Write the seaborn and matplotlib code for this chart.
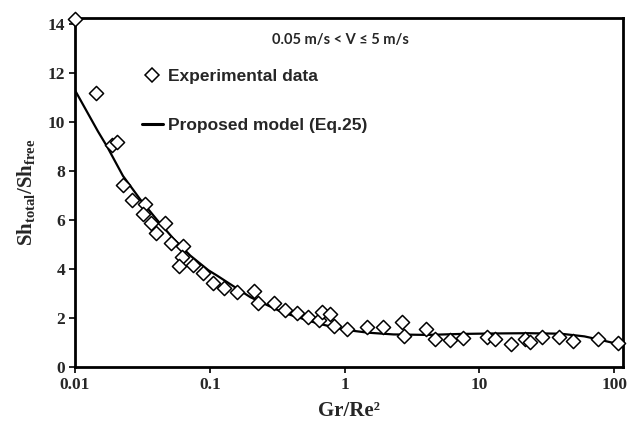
import numpy as np
import pandas as pd
import matplotlib
matplotlib.use("Agg")
import matplotlib.pyplot as plt
import seaborn as sns
from matplotlib.lines import Line2D

# ---- data ----
exp_x = [0.01, 0.0143, 0.0188, 0.0205, 0.0228, 0.0265, 0.0331, 0.0320, 0.0367, 0.0400,
         0.0467, 0.0517, 0.0635, 0.0625, 0.0593, 0.0754, 0.0895, 0.106, 0.128, 0.160,
         0.211, 0.229, 0.297, 0.364, 0.440, 0.531, 0.641, 0.675, 0.773, 0.828,
         1.035, 1.46, 1.92, 2.65, 2.75, 4.0, 4.67, 6.04, 7.54, 11.4,
         13.0, 17.1, 21.8, 23.7, 29.2, 39.0, 49.6, 76.0, 107.0]
exp_y = [14.2, 11.2, 9.06, 9.18, 7.43, 6.8, 6.65, 6.24, 5.88, 5.47,
         5.88, 5.06, 4.94, 4.49, 4.12, 4.16, 3.84, 3.43, 3.22, 3.06,
         3.10, 2.61, 2.61, 2.33, 2.20, 2.04, 1.92, 2.24, 2.16, 1.67,
         1.55, 1.63, 1.63, 1.84, 1.27, 1.55, 1.14, 1.10, 1.18, 1.22,
         1.14, 0.94, 1.14, 1.02, 1.22, 1.22, 1.06, 1.14, 0.98]

model_x = [0.01, 0.0148, 0.0173, 0.0227, 0.0304, 0.0407, 0.0535, 0.0716, 0.0976, 0.114,
           0.2, 0.35, 0.63, 1.0, 1.5, 2.3, 4.1, 7.3, 13.0, 23.0, 40.0, 60.0, 80.0, 110.0]
model_y = [11.3, 9.62, 9.0, 7.8, 6.85, 6.0, 5.25, 4.55, 3.95, 3.72,
           2.85, 2.22, 1.78, 1.52, 1.40, 1.33, 1.31, 1.35, 1.37, 1.38, 1.36, 1.25, 1.1, 0.92]

x_ticks = [0.01, 0.1, 1, 10, 100]
x_tick_labels = ["0.01", "0.1", "1", "10", "100"]
y_ticks = [0, 2, 4, 6, 8, 10, 12, 14]

exp_df = pd.DataFrame({"x": exp_x, "y": exp_y})
model_df = pd.DataFrame({"x": model_x, "y": model_y})

sns.set_style("white")
plt.rcParams["mathtext.fontset"] = "custom"
plt.rcParams["mathtext.rm"] = "Liberation Serif:bold"
plt.rcParams["mathtext.bf"] = "Liberation Serif:bold"
plt.rcParams["mathtext.it"] = "Liberation Serif:bold"

fig = plt.figure(figsize=(6.3, 4.22), dpi=100)
ax = fig.add_axes([75 / 630, 1 - 367 / 422, (623 - 75) / 630, (367 - 18) / 422])

sns.lineplot(data=model_df, x="x", y="y", ax=ax, color="black", linewidth=1.6,
             sort=False, zorder=2, legend=False)
sns.scatterplot(data=exp_df, x="x", y="y", ax=ax, marker="D", s=52,
                facecolor="white", edgecolor="black", linewidth=1.1,
                zorder=3, clip_on=False, legend=False)

ax.set_xscale("log")
ax.set_xlim(0.01, 116)
ax.set_ylim(0, 14.25)
ax.set_xticks(x_ticks)
ax.set_xticklabels(x_tick_labels)
ax.xaxis.set_minor_locator(matplotlib.ticker.NullLocator())
ax.set_yticks(y_ticks)
for lab in ax.get_xticklabels() + ax.get_yticklabels():
    lab.set_fontfamily("Liberation Serif")
    lab.set_fontweight("bold")
    lab.set_fontsize(12.5)
ax.tick_params(axis="both", direction="out", length=4, width=1.2, color="black",
               bottom=True, left=True, pad=3)

for sp in ax.spines.values():
    sp.set_visible(True)
    sp.set_color("black")
    sp.set_linewidth(2.0)

ax.set_xlabel("Gr/Re²", fontfamily="Liberation Serif", fontweight="bold",
              fontsize=15, labelpad=6)
ax.set_ylabel(r"$\mathbf{Sh_{total}/Sh_{free}}$", fontsize=15, labelpad=8)

ax.text(0.485, 0.937, "0.05 m/s < V ≤ 5 m/s", transform=ax.transAxes,
        ha="center", va="center", fontfamily="Lato", fontweight="bold", fontsize=10.5)

handles = [
    Line2D([], [], marker="D", linestyle="none", markersize=7.2,
           markerfacecolor="white", markeredgecolor="black", markeredgewidth=1.1),
    Line2D([], [], color="black", linewidth=2.2),
]
leg = ax.legend(handles, ["Experimental data", "Proposed model (Eq.25)"],
                loc="upper left", bbox_to_anchor=((135 - 75) / 548, (367 - 62) / 349),
                frameon=False, labelspacing=1.95, handlelength=1.2,
                handletextpad=0.3, borderaxespad=0,
                prop={"family": "Liberation Sans", "weight": "bold", "size": 12.5})

fig.savefig("out.png", dpi=100)
